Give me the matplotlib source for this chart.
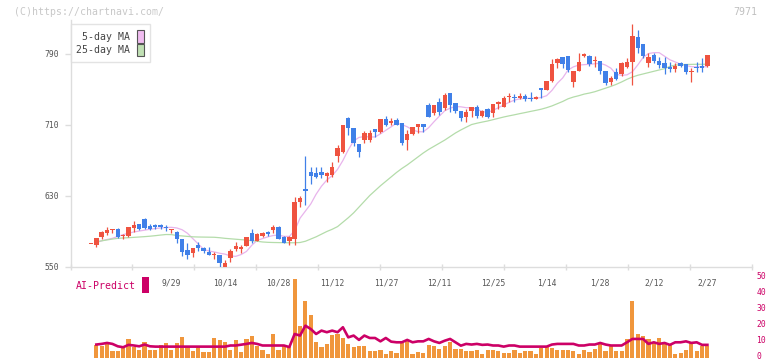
import numpy as np
import matplotlib
matplotlib.use("Agg")
import matplotlib.pyplot as plt
from matplotlib.patches import Patch, Rectangle
from matplotlib.transforms import ScaledTranslation

nan = np.nan

# date labels and the candle index they sit under
dates = ['9/29', '10/14', '10/28', '11/12', '11/27', '12/11', '12/25', '1/14', '1/28', '2/12', '2/27']
date_idx = [15, 25, 35, 45, 55, 65, 75, 85, 95, 105, 115]

opens = [576, 575.2, 583.8, 588.7, 591.3, 592.8, 584.5, 585, 594.3, 598.5,
         604, 596, 597.7, 597.3, 595, 591.3, 589.8, 581.5, 569, 566,
         574.8, 571.1, 567.2, 564, 563.5, 549.7, 559.8, 570, 570, 574,
         588, 579.6, 585, 589.4, 591.7, 595.4, 584, 579.3, 581, 623.6,
         638, 657.4, 655.6, 657.4, 652, 653.6, 674.6, 680, 718.2, 706.3,
         688.6, 693.1, 693.5, 705, 702.5, 716.4, 712, 715.6, 712, 693.1,
         700, 707.4, 711.2, 732.5, 723, 736.3, 728.8, 745.7, 734.4, 725.8,
         719.3, 726, 730, 720.5, 728, 723.8, 733.5, 730.8, 741, 742,
         740, 742.6, 740.8, 739.3, 751.5, 749.4, 759.6, 779.5, 786.3, 787.7,
         758, 770.8, 787.7, 787.7, 782, 782, 770.8, 757.9, 769.4, 767.5,
         775.7, 781.3, 808.8, 801.3, 780.3, 788.9, 782, 779.5, 775.7, 773,
         780.3, 778.4, 769.4, 775.7, 776.8, 776.5]
highs = [576, 583, 590, 595, 592.8, 593.8, 587.5, 595, 601.8, 599,
         605.5, 599, 598.5, 598, 597.3, 593, 590.5, 582, 576.7, 571.5,
         578.5, 573, 572, 567, 564, 558, 570, 577.8, 574.8, 584,
         592.8, 588, 589.8, 591, 597.3, 596, 585, 584.5, 629.3, 630,
         675, 663, 662.3, 662.3, 657.4, 668.7, 687.5, 710.5, 718.5, 706.5,
         689, 703.6, 704, 705.5, 716.8, 720, 717.5, 718.3, 712.5, 704.4,
         707.5, 711.5, 711.5, 734.4, 733, 740, 745.7, 746, 735, 726,
         728, 730.5, 732, 727, 729.5, 734, 736.5, 743, 745.7, 744.6,
         745.7, 744.6, 746.8, 742.5, 752.2, 760, 784.3, 785, 786.5, 788,
         771, 790.8, 791.5, 789, 788, 782.5, 771, 764.7, 774.6, 781.3,
         786, 823.8, 817, 801.5, 790.8, 790.8, 787, 787, 781.3, 779.5,
         781.3, 778.6, 774.6, 781.3, 786, 789]
lows = [576, 573, 581.5, 586, 588, 583, 581.5, 583.5, 589.8, 592,
        593, 592, 592.5, 592.5, 591, 588, 577.4, 562, 558.7, 561.6,
        568, 566, 563, 558.7, 550.4, 549.5, 556, 568.4, 565.4, 573.5,
        577.4, 579, 583.5, 585, 588.7, 581, 577, 574.8, 574.8, 618,
        620, 644, 650, 650, 646, 651, 668.7, 678, 698.7, 686.3,
        674.3, 690, 691, 696.8, 701.4, 709, 710, 709.5, 687.5, 681.8,
        699, 700.6, 702.5, 719, 721, 721, 727, 725, 724, 714.5,
        713.7, 719.3, 718, 719.3, 718, 719.3, 727.7, 730, 736.3, 736.3,
        738.9, 737.4, 737.4, 739, 740, 749, 759, 774.6, 774.6, 769.4,
        753.2, 770.5, 786.6, 777, 775.7, 767, 755, 755, 760.7, 764.7,
        774, 755, 790.8, 785.8, 775.7, 780, 774, 767.5, 769.4, 770,
        775, 767, 758, 770, 770, 775]
closes = [576, 582.7, 589.8, 592, 592.8, 583.8, 585.5, 594.7, 597.3, 593,
          594.5, 593, 595.5, 595.5, 593.8, 592.8, 581.9, 567.2, 563.5, 571,
          571.7, 568.4, 563.5, 565, 554, 554.2, 568.4, 573.7, 572.2, 583.5,
          579.6, 587.2, 588.3, 587.2, 595.4, 581.9, 577.4, 584.1, 623.6, 628.1,
          636, 653, 651.8, 653.6, 655.6, 662.3, 683.8, 710, 707, 690,
          680, 701.4, 701.4, 702.5, 716.4, 710, 714.5, 710, 689.4, 700,
          707.4, 711.2, 707.4, 719.3, 732.5, 725, 743.8, 732.5, 725.5, 718.2,
          724.3, 730, 720, 725.8, 719.3, 733.7, 736.3, 740.8, 743, 740,
          743, 739.3, 739.3, 742, 749.4, 759.6, 778.4, 784.3, 778.4, 772,
          770.8, 781.4, 790, 778.4, 783.2, 770.8, 757, 763.5, 762, 779.5,
          780.7, 810.3, 796.4, 788, 787, 782, 777.6, 774, 772.7, 776.8,
          777, 770, 770.8, 773.7, 774.4, 788.9]

ma5 = [nan, 577.5, 579.5, 581, 582.3, 584.5, 586.5, 588, 589.5, 590.5,
       591.5, 592.5, 593.3, 594, 594.5, 594.7, 594, 592, 588, 582,
       576, 570, 568, 567, 565.5, 564.5, 562.5, 562, 564, 567.5,
       574.5, 580, 582, 584, 585.5, 586, 584.5, 584.5, 591, 605,
       613, 621, 632, 641, 648, 653, 660, 670, 682, 692,
       696, 697, 696.5, 696.5, 700, 704, 708, 712, 710.5, 708,
       704.5, 702.5, 702.3, 707, 713.7, 720, 726, 729, 730.8, 730.5,
       729.5, 729.5, 728, 725, 724.3, 726.5, 729.5, 732.5, 735.5, 738,
       739.5, 740.1, 740.1, 740.1, 741, 743, 749, 757, 763, 772,
       775.5, 777.5, 778, 778.4, 779, 779.6, 777.5, 774, 767, 766,
       766.5, 770, 777.6, 786, 790.5, 791.5, 791.5, 787.5, 783.5, 781,
       778.5, 777, 775.7, 775.5, 775.5, 775.7]
ma25 = [nan, 578.5, 579.5, 580.5, 581.5, 582.3, 582.7, 583, 583.4, 583.8,
        584.2, 584.7, 585.3, 586, 586.6, 586.5, 585.5, 585, 584.5, 584,
        583.8, 583.7, 583.6, 583.5, 583, 582.3, 581.8, 581.3, 580.8, 580.4,
        579.6, 579, 578.2, 577.8, 577.6, 577.5, 577.4, 577.3, 577.3, 577.6,
        579, 581.5, 584, 587, 590, 592.5, 595.5, 600.5, 605.5, 611,
        617.5, 624, 630.5, 636, 641.5, 646.5, 651.5, 656.5, 661, 665,
        669.5, 674, 678.5, 682.5, 686, 689.5, 693, 697, 701, 704.4,
        707.5, 710.5, 712, 713.3, 714.5, 716, 717.5, 719, 720.3, 721.5,
        722.8, 724, 725.3, 726.5, 727.8, 729.5, 731.5, 734, 736.5, 739.5,
        741.5, 743, 744.8, 746, 747.5, 749.5, 751.5, 753.5, 755.8, 758.5,
        761.5, 764, 766, 767.5, 769, 770.5, 772, 773.5, 776, 777.5,
        778, 778.2, 778.3, 778.4, 778.4, 778.5]

volume = [0, 8.4, 8, 10.5, 4.3, 4.7, 7.4, 12.2, 6.8, 4.9,
          10.5, 5.3, 5.3, 8.4, 9.5, 5.3, 9.5, 13.6, 7.4, 4.7,
          6.8, 3.9, 3.9, 12.6, 11.6, 10.1, 5.3, 11.6, 3.9, 12,
          14, 7.4, 5.3, 2.8, 15.3, 5.3, 8.4, 8, 49.7, 20.5,
          36.1, 27.2, 9.9, 6.8, 9, 14.7, 15.3, 13, 9, 6.8,
          7.8, 7.4, 4.3, 4.3, 5.3, 2.8, 4.3, 3.6, 9.5, 11,
          2.8, 4, 3.6, 8.4, 7.4, 5.9, 8, 9.9, 5.9, 5.9,
          4.3, 4.3, 5.3, 2.8, 4.9, 5.3, 4.7, 3.6, 3.2, 5.3,
          3.6, 4.7, 4.7, 2.6, 6.3, 7.4, 6.3, 5.3, 4.9, 5.5,
          4.3, 2.8, 5.3, 3.9, 5.9, 9, 4.3, 7.4, 4.3, 4.3,
          12, 36, 15.1, 14, 12.2, 9.5, 12.6, 9, 8.4, 2.8,
          3.6, 5.3, 9.5, 4.7, 8, 8]
ai_predict = [nan, 8.6, 9, 9.6, 9, 7.5, 6.9, 8.4, 8, 7.5,
              8.6, 7.5, 7.3, 7.3, 7.3, 7.3, 7.3, 7.3, 7.3, 7.3,
              7.3, 7.3, 7.3, 7.3, 7.3, 7.3, 8, 8, 8.5, 9,
              9.6, 9, 8, 8, 8, 8, 8, 7, 15.2, 14.2,
              20.4, 18.3, 15.2, 17.3, 16.3, 17.3, 16.3, 19.4, 13.1, 14.2,
              11.5, 14.2, 12.7, 12.7, 10.6, 12.7, 10.4, 10, 10, 11.5,
              10, 10.6, 10.6, 12.1, 10.6, 9.6, 11, 12.1, 10, 7.9,
              9, 8.6, 9, 8.4, 8.6, 8, 8, 7.3, 8, 8,
              7.3, 7.3, 7.3, 7.3, 7.3, 7.3, 8.6, 9, 9, 9,
              9, 8, 8, 8.6, 8.6, 9.6, 8.6, 8, 8, 8,
              10, 12.1, 12.1, 12.1, 9, 10, 9, 9.6, 8.4, 10,
              10, 10.6, 9.6, 10, 8.4, 8.4]
vol_ticks = [0, 10, 20, 30, 40, 50]

W, H = 772, 361
RED = '#ef5340'
BLUE = '#4080e8'
MONO = 'DejaVu Sans Mono'


def fx(px):
    return px / W


def fy(py):
    return 1 - py / H


fig = plt.figure(figsize=(W / 100, H / 100), dpi=100)
ax = fig.add_axes([fx(70.5), fy(267), fx(752) - fx(70.5), fy(20) - fy(267)])
ax2 = fig.add_axes([fx(70.5), fy(358.3), fx(752) - fx(70.5), fy(278.3) - fy(358.3)])

# candles: red when close >= open, blue otherwise
x = np.arange(len(opens))
o = np.array(opens)
c = np.array(closes)
colors = [RED if cc >= oo else BLUE for oo, cc in zip(o, c)]
ax.vlines(x, lows, highs, colors=colors, linewidth=0.9, zorder=3)
ax.bar(x, np.maximum(np.abs(c - o), 1.0), bottom=np.minimum(o, c), width=0.82,
       color=colors, linewidth=0, zorder=4)
ax.plot(x, ma5, color='#e8b4ec', linewidth=0.9, zorder=2)
ax.plot(x, ma25, color='#b4dcaa', linewidth=0.9, zorder=2)

xlim = (-3.82, 123.32)
ax.set_xlim(*xlim)
ax.set_ylim(550, 828.3)
for s in ['top', 'right']:
    ax.spines[s].set_visible(False)
for s in ['left', 'bottom']:
    ax.spines[s].set_color('#dddddd')
    ax.spines[s].set_linewidth(1)
ax.set_yticks([550, 630, 710, 790])
ax.tick_params(axis='y', length=4, width=1, color='#dddddd', pad=4.3,
               labelsize=5.8, labelcolor='#555555')
ax.set_xticks(date_idx, dates)
ax.set_xticks(np.linspace(xlim[0], xlim[1], 12), minor=True)
ax.tick_params(axis='x', which='major', length=0, pad=8.5, labelsize=5.8, labelcolor='#555555')
ax.tick_params(axis='x', which='minor', length=4, width=1, direction='inout', color='#dddddd')
for lab in ax.get_xticklabels() + ax.get_yticklabels():
    lab.set_family(MONO)

handles = [Patch(facecolor='#f0bcf0', edgecolor='#555555', linewidth=0.8),
           Patch(facecolor='#c0e0b4', edgecolor='#555555', linewidth=0.8)]
leg = ax.legend(handles, ['5-day MA', '25-day MA'], loc='upper left',
                bbox_to_anchor=(0, 0.9826), borderaxespad=0, markerfirst=False,
                handlelength=0.68, handleheight=1.55, handletextpad=0.68,
                labelspacing=0.15, borderpad=0.6, fancybox=False,
                prop={'family': MONO, 'size': 7.1}, labelcolor='#444444')
leg.get_frame().set_edgecolor('#dddddd')
leg.get_frame().set_linewidth(1)

# lower panel: volume bars + AI-Predict line
ax2.patch.set_visible(False)
ax2.bar(x, volume, width=0.78, color='#f0963c', linewidth=0, zorder=2)
ax2.plot(x, ai_predict, color='#cc0066', linewidth=1.9, zorder=3)
ax2.set_xlim(*xlim)
ax2.set_ylim(0, 50)
for s in ax2.spines.values():
    s.set_visible(False)
ax2.set_xticks([])
ax2.set_yticks([])
# right-hand scale, nudged up a little so "0" stays inside the picture
lift = ScaledTranslation(0, 2 / 100, fig.dpi_scale_trans)
lab_x = 1 + 4.5 / (752 - 70.5)
for v in vol_ticks:
    ax2.text(lab_x, v, str(v), transform=ax2.get_yaxis_transform() + lift,
             family=MONO, size=5.8, color='#cc0066', ha='left', va='center')

fig.text(fx(14), fy(12), '(C)https://chartnavi.com/', family=MONO, size=7.1,
         color='#c8c8c8', va='center', ha='left')
fig.text(fx(757), fy(12), '7971', family=MONO, size=7.1, color='#c0c0c0',
         va='center', ha='right')
fig.text(fx(76), fy(286), 'AI-Predict', family=MONO, size=7.1, color='#cc0066',
         va='center', ha='left')
fig.patches.append(Rectangle((fx(142), fy(292.7)), fx(7), fy(276.7) - fy(292.7),
                             transform=fig.transFigure, facecolor='#cc0066',
                             edgecolor='none'))

fig.savefig('out.png', dpi=100)
